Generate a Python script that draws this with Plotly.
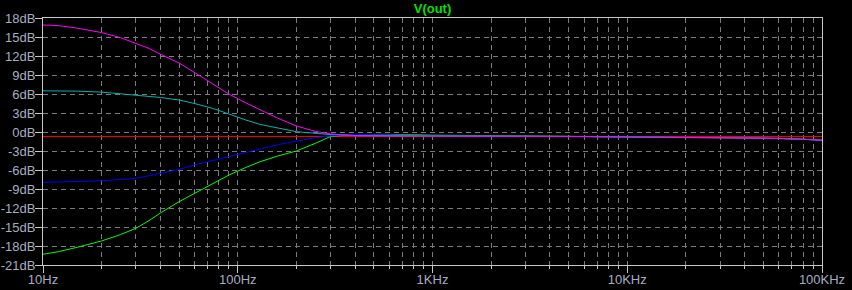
import plotly.graph_objects as go

# frequencies (Hz)
freq = [10, 12, 15, 20, 25, 30, 35, 40, 50, 60, 75, 90, 110, 130, 160, 200, 250, 300, 400, 600, 1000, 2000, 5000, 10000, 20000, 40000, 60000, 80000, 100000]

magenta_db = [16.9, 16.8, 16.4, 15.7, 14.9, 14.0, 13.2, 12.3, 10.9, 9.4, 7.6, 6.0, 4.6, 3.5, 2.2, 0.95, 0.1, -0.3, -0.6, -0.65, -0.65, -0.65, -0.7, -0.8, -0.85, -0.9, -1.0, -1.15, -1.3]
cyan_db = [6.5, 6.5, 6.45, 6.3, 6.05, 5.8, 5.65, 5.45, 5.05, 4.5, 3.7, 2.8, 1.9, 1.2, 0.6, 0.05, -0.2, -0.4, -0.55, -0.6, -0.65, -0.65, -0.7, -0.8, -0.85, -0.9, -1.0, -1.15, -1.3]
red_db = [-0.7] * len(freq)
blue_db = [-7.95, -7.9, -7.85, -7.7, -7.5, -7.3, -6.9, -6.5, -5.9, -5.2, -4.5, -3.9, -3.2, -2.7, -2.0, -1.4, -0.9, -0.6, -0.4, -0.45, -0.6, -0.65, -0.7, -0.8, -0.85, -0.9, -1.0, -1.15, -1.3]
green_db = [-19.3, -18.9, -18.2, -17.2, -16.2, -15.2, -14.0, -12.8, -11.0, -9.7, -8.2, -6.8, -5.6, -4.7, -3.8, -3.0, -1.8, -0.7, -0.4, -0.37, -0.5, -0.6, -0.65, -0.8, -0.85, -0.9, -1.0, -1.15, -1.3]

x_tickvals = [10, 100, 1000, 10000, 100000]
x_ticktext = ["10Hz", "100Hz", "1KHz", "10KHz", "100KHz"]
y_tickvals = [18, 15, 12, 9, 6, 3, 0, -3, -6, -9, -12, -15, -18, -21]
y_ticktext = [f"{v}dB" for v in y_tickvals]

series = [
    ("red", red_db, "#ff0000"),
    ("green", green_db, "#00ff00"),
    ("blue", blue_db, "#0000ff"),
    ("cyan", cyan_db, "#00b4b4"),
    ("magenta", magenta_db, "#ff00ff"),
]

fig = go.Figure()
for name, ys, col in series:
    fig.add_trace(go.Scatter(x=freq, y=ys, mode="lines", name=name,
                             line=dict(color=col, width=1),
                             showlegend=False, hoverinfo="skip"))

minor_vals = []
for d in [10, 100, 1000, 10000]:
    for k in range(2, 10):
        minor_vals.append(d * k)

lbl_font = dict(family="Liberation Sans, Arial, sans-serif", size=13, color="#a8adc0")
grid_col = "#7a7a80"

fig.update_layout(
    width=852, height=290,
    margin=dict(l=43, r=30, t=18, b=25),
    paper_bgcolor="#000000", plot_bgcolor="#000000",
    title=dict(text="<b>V(out)</b>", x=0.5, xref="paper", xanchor="center",
               y=1 - 8 / 290, yref="container", yanchor="middle",
               font=dict(family="Liberation Sans, Arial, sans-serif", size=13, color="#00e000")),
    xaxis=dict(type="log", range=[1, 5], tickvals=x_tickvals, ticktext=x_ticktext,
               automargin=False, ticklabelstandoff=-5,
               showgrid=True, gridcolor=grid_col, griddash="5px,4px", gridwidth=1,
               showline=True, linecolor="#c8c8c8", linewidth=1, mirror=True,
               ticks="outside", ticklen=7, tickcolor="#c8c8c8",
               tickfont=lbl_font, zeroline=False,
               minor=dict(tickvals=minor_vals, showgrid=True, gridcolor=grid_col,
                          griddash="5px,4px", ticks="outside", ticklen=3, tickcolor="#c8c8c8")),
    yaxis=dict(range=[-21, 18], tickvals=y_tickvals, ticktext=y_ticktext,
               automargin=False, ticklabelstandoff=-3,
               showgrid=True, gridcolor=grid_col, griddash="5px,4px", gridwidth=1,
               showline=True, linecolor="#c8c8c8", linewidth=1, mirror=True,
               ticks="outside", ticklen=7, tickcolor="#c8c8c8",
               tickfont=lbl_font, zeroline=False),
)

fig.write_html("out.html")
